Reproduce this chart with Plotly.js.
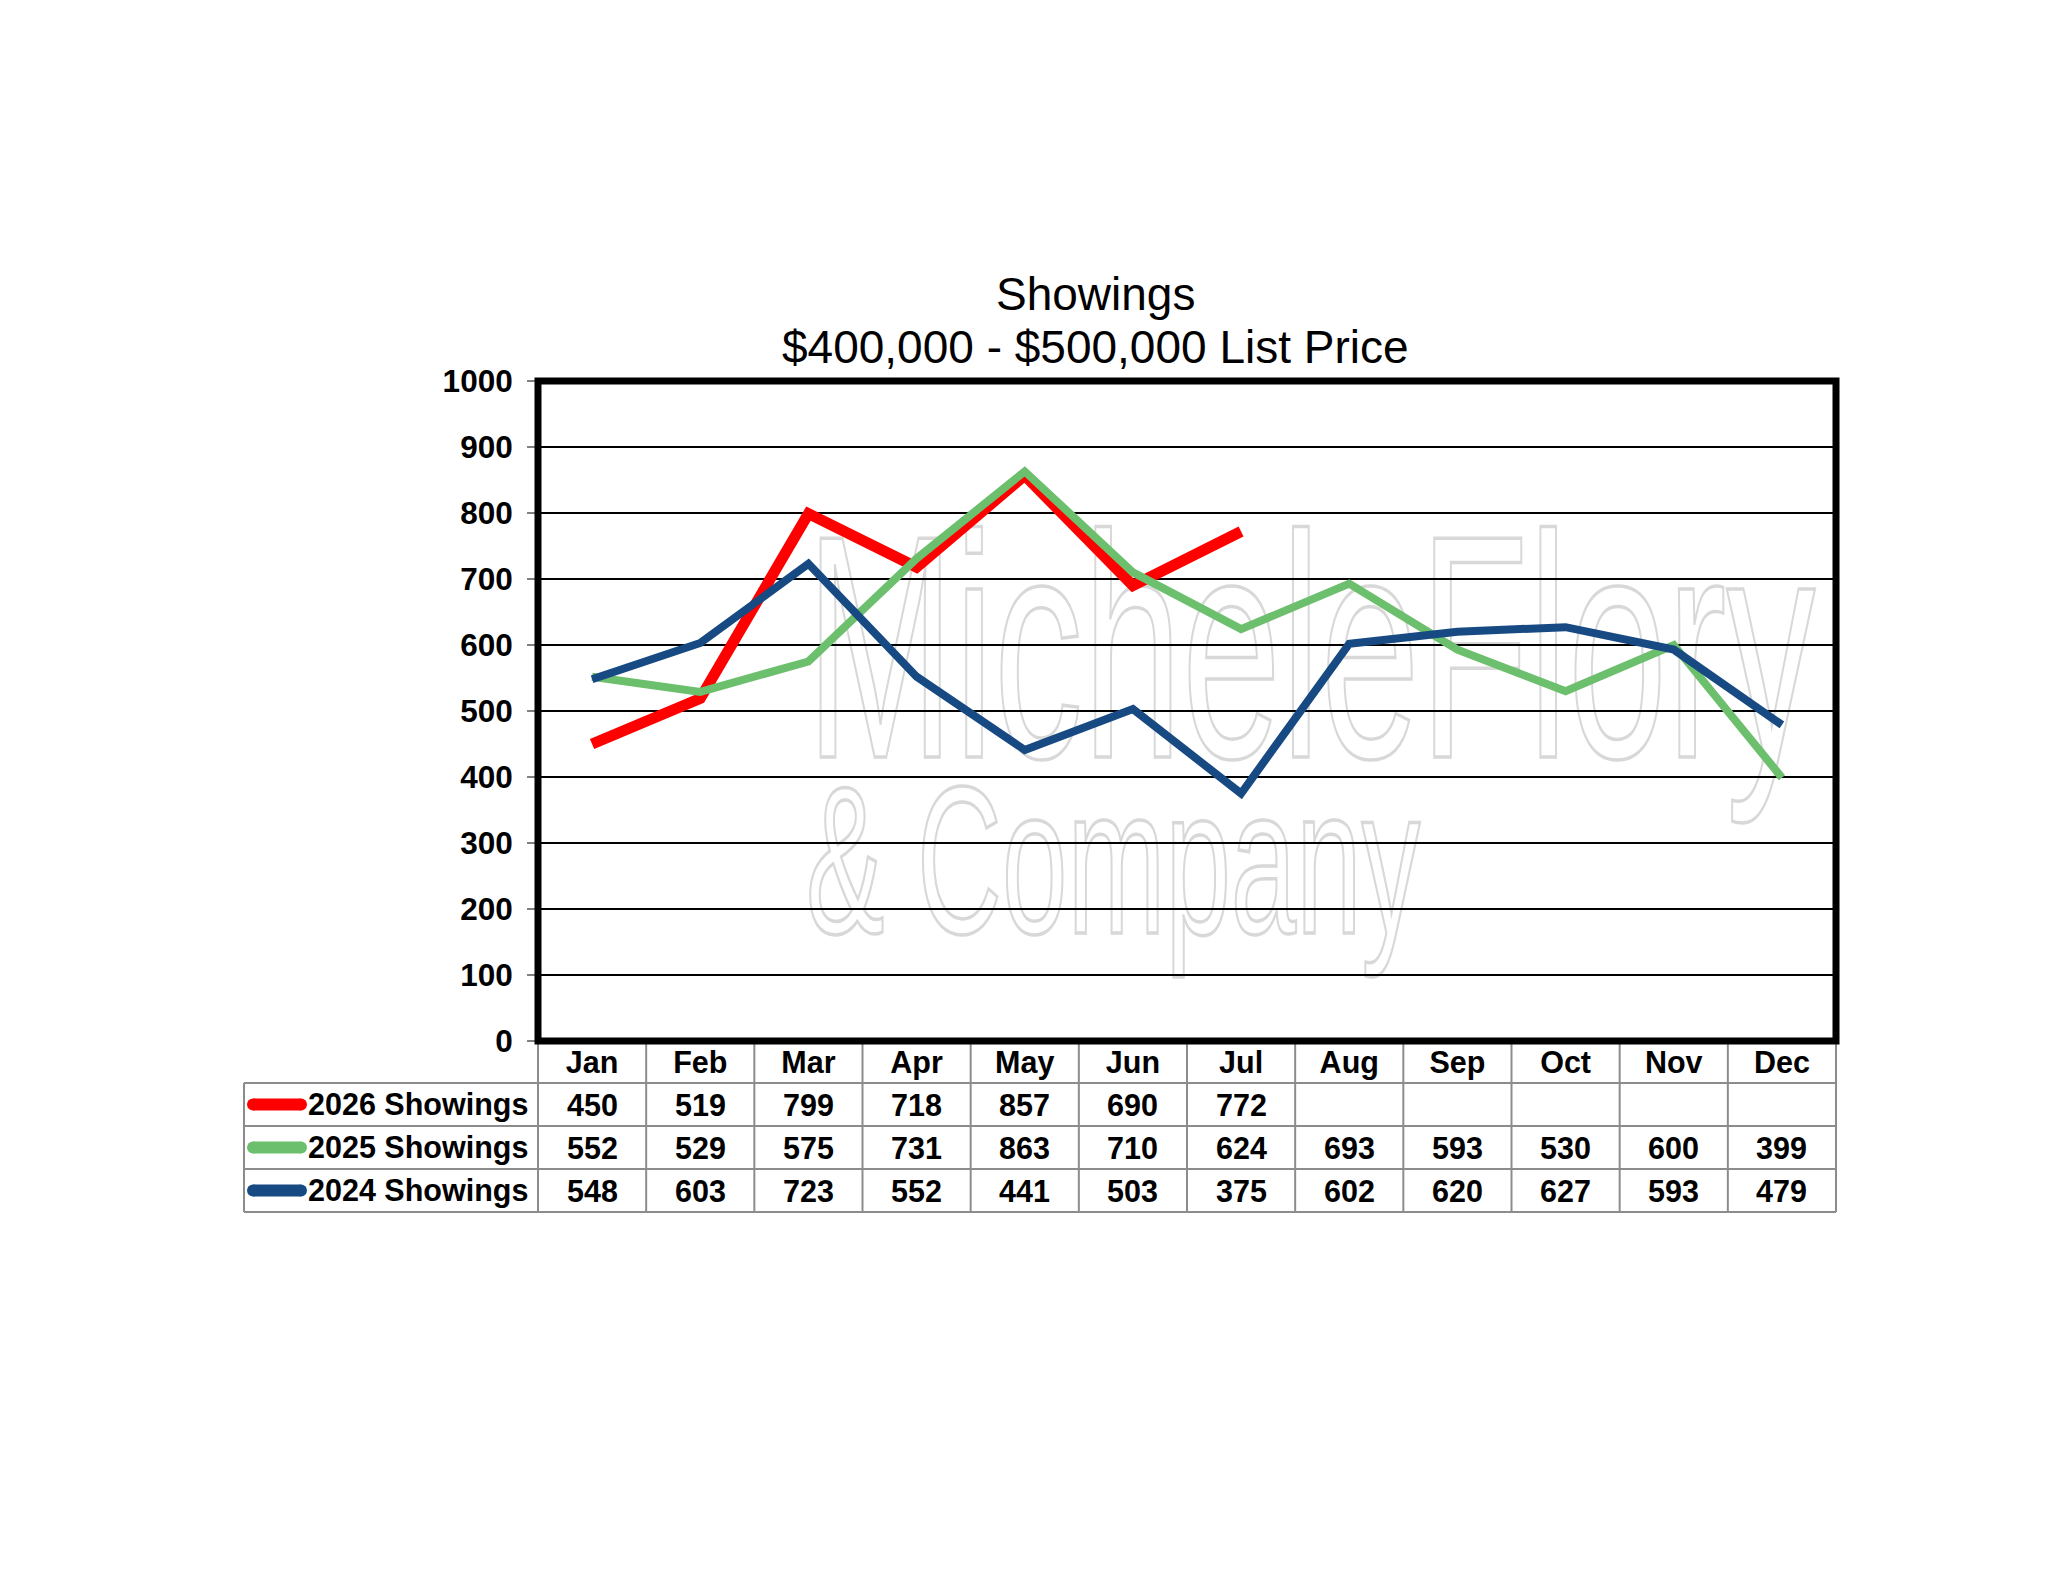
<!DOCTYPE html>
<html>
<head>
<meta charset="utf-8">
<script src="https://cdn.plot.ly/plotly-3.0.1.min.js"></script>
<style>
  body { margin: 0; background: #ffffff; }
  #wrap { position: relative; width: 2048px; height: 1583px; overflow: hidden; }
  .wm {
    position: absolute; font-family: "Liberation Sans", Arial, sans-serif;
    line-height: 0.75; white-space: nowrap; color: transparent;
    -webkit-text-stroke: 3.5px #d8d8d8; transform-origin: 0 0; transform: scaleX(0.56);
  }
  #myDiv { position: absolute; left: 0; top: 0; }
</style>
</head>
<body>
<div id="wrap">
  <div class="wm" style="left:806px; top:528px; font-size:318px;">MicheleFlory</div>
  <div class="wm" style="left:806px; top:782px; font-size:210px;">&amp; Company</div>
  <div id="myDiv"></div>
</div>
<script>
// chart values
months = ['Jan', 'Feb', 'Mar', 'Apr', 'May', 'Jun', 'Jul', 'Aug', 'Sep', 'Oct', 'Nov', 'Dec'];
showings2026 = [450, 519, 799, 718, 857, 690, 772, null, null, null, null, null];
showings2025 = [552, 529, 575, 731, 863, 710, 624, 693, 593, 530, 600, 399];
showings2024 = [548, 603, 723, 552, 441, 503, 375, 602, 620, 627, 593, 479];
seriesNames = ['2026 Showings', '2025 Showings', '2024 Showings'];
seriesColors = ['#ff0000', '#6cbf6c', '#174a82'];

// pixel -> paper helpers (plot area is 538..1836 x 381..1041)
function PX(px) { return (px - 538) / 1298; }
function PY(py) { return (1041 - py) / 660; }

trace1 = {
  x: months, y: showings2026, type: 'scatter', mode: 'lines',
  name: seriesNames[0], line: {color: seriesColors[0], width: 11}
  };
trace2 = {
  x: months, y: showings2025, type: 'scatter', mode: 'lines',
  name: seriesNames[1], line: {color: seriesColors[1], width: 8}
  };
trace3 = {
  x: months, y: showings2024, type: 'scatter', mode: 'lines',
  name: seriesNames[2], line: {color: seriesColors[2], width: 8}
  };

allRows = [showings2026, showings2025, showings2024];
rowCenters = [1104.5, 1147.5, 1190.5];
gridGrey = '#8c8c8c';
tableFont = {family: 'Liberation Sans, Arial', size: 30.5, color: '#000', weight: 'bold'};

shapes = [];
annotations = [];

// title lines
annotations.push({xref: 'paper', yref: 'paper', x: PX(1095), y: PY(294), xanchor: 'center',
  yanchor: 'middle', text: 'Showings', showarrow: false,
  font: {family: 'Liberation Sans, Arial', size: 46, color: '#000'}});
annotations.push({xref: 'paper', yref: 'paper', x: PX(1095), y: PY(347), xanchor: 'center',
  yanchor: 'middle', text: '$400,000 - $500,000 List Price', showarrow: false,
  font: {family: 'Liberation Sans, Arial', size: 46, color: '#000'}});

// data table lines
[1083, 1126, 1169, 1212].forEach(function (yy) {
  shapes.push({type: 'line', xref: 'paper', yref: 'paper', x0: PX(244), x1: PX(1836),
    y0: PY(yy), y1: PY(yy), line: {color: gridGrey, width: 2}});
});
shapes.push({type: 'line', xref: 'paper', yref: 'paper', x0: PX(244), x1: PX(244),
  y0: PY(1083), y1: PY(1212), line: {color: gridGrey, width: 2}});
for (let k = 0; k <= 12; k++) {
  let xx = 538 + k * 1298 / 12;
  shapes.push({type: 'line', xref: 'paper', yref: 'paper', x0: PX(xx), x1: PX(xx),
    y0: PY(1041), y1: PY(1212), line: {color: gridGrey, width: 2}});
}

// table row labels, legend keys and values
for (let r = 0; r < 3; r++) {
  let cy = rowCenters[r];
  shapes.push({type: 'line', xref: 'paper', yref: 'paper', x0: PX(253), x1: PX(301),
    y0: PY(cy), y1: PY(cy), line: {color: seriesColors[r], width: 12}});
  [253, 301].forEach(function (ex) {
    shapes.push({type: 'circle', xref: 'paper', yref: 'paper', x0: PX(ex - 6), x1: PX(ex + 6),
      y0: PY(cy + 6), y1: PY(cy - 6), fillcolor: seriesColors[r], line: {width: 0}});
  });
  annotations.push({xref: 'paper', yref: 'paper', x: PX(306), y: PY(cy), xanchor: 'left',
    yanchor: 'middle', text: seriesNames[r], showarrow: false, font: tableFont});
  for (let m = 0; m < months.length; m++) {
    if (allRows[r][m] === null) continue;
    annotations.push({xref: 'x', yref: 'paper', x: months[m], y: PY(cy), xanchor: 'center',
      yanchor: 'middle', text: String(allRows[r][m]), showarrow: false, font: tableFont});
  }
}

// thick plot frame
shapes.push({type: 'rect', xref: 'paper', yref: 'paper', x0: 0, x1: 1, y0: 0, y1: 1,
  line: {color: '#000', width: 7}, layer: 'above'});

layout = {
  width: 2048,
  height: 1583,
  margin: {l: 538, r: 212, t: 381, b: 542},
  paper_bgcolor: 'rgba(0,0,0,0)',
  plot_bgcolor: 'rgba(0,0,0,0)',
  showlegend: false,
  xaxis: {
    type: 'category',
    range: [-0.5, 11.5],
    showgrid: false,
    zeroline: false,
    showline: false,
    ticks: '',
    ticklabelstandoff: 0,
    tickfont: tableFont
  },
  yaxis: {
    range: [0, 1000],
    dtick: 100,
    showgrid: true,
    gridcolor: '#000',
    gridwidth: 2.5,
    zeroline: false,
    showline: true,
    linecolor: '#808080',
    linewidth: 2,
    ticks: 'outside',
    ticklen: 9,
    tickwidth: 2,
    tickcolor: '#808080',
    ticklabelstandoff: 8,
    tickfont: {family: 'Liberation Sans, Arial', size: 31.5, color: '#000', weight: 'bold'}
  },
  shapes: shapes,
  annotations: annotations
};

data = [trace1, trace2, trace3];
Plotly.newPlot('myDiv', data, layout, {displayModeBar: false, staticPlot: true});
</script>
</body>
</html>
